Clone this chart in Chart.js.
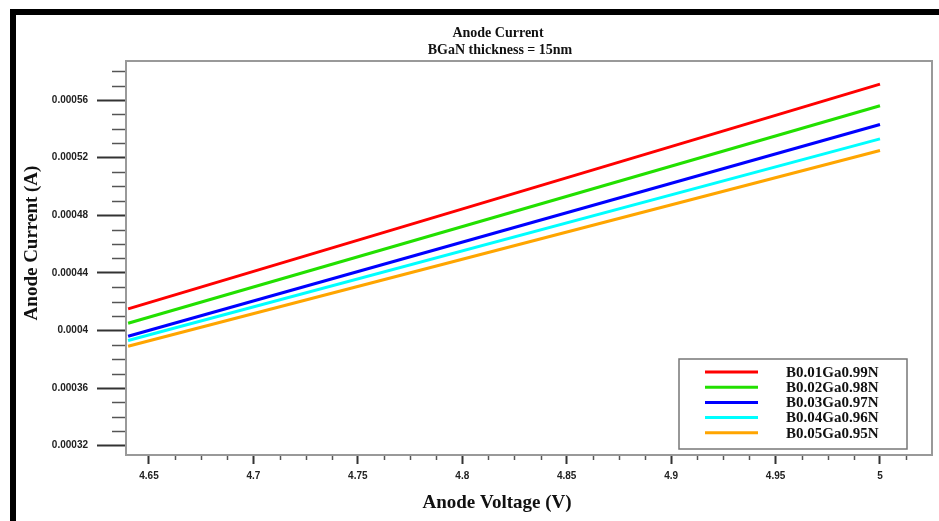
<!DOCTYPE html>
<html>
<head>
<meta charset="utf-8">
<script src="https://cdn.jsdelivr.net/npm/chart.js@4.4.1/dist/chart.umd.min.js"></script>
<style>
  html, body { margin: 0; padding: 0; background: #fff; }
  #wrap { position: relative; width: 939px; height: 521px; }
  #frame {
    position: absolute; left: 10px; top: 9px; right: 0; bottom: 0;
    border-top: 6px solid #000; border-left: 6px solid #000;
    pointer-events: none;
  }
</style>
</head>
<body>
<div id="wrap">
  <canvas id="myChart"></canvas>
  <div id="frame"></div>
</div>
<script>
const Series_names = ["B0.01Ga0.99N", "B0.02Ga0.98N", "B0.03Ga0.97N", "B0.04Ga0.96N", "B0.05Ga0.95N"];
const Series_colors = ["#ff0000", "#22e000", "#0000ff", "#00ffff", "#ffa500"];
const Voltage = [4.64, 5.0];
const Current = [
  [0.000415, 0.000571],
  [0.000405, 0.000556],
  [0.000396, 0.000543],
  [0.000393, 0.000533],
  [0.000389, 0.000525],
];
const Chart_title = ["Anode Current", "BGaN thickness = 15nm"];
const X_title = "Anode Voltage (V)";
const Y_title = "Anode Current (A)";

const serif = "'Liberation Serif', 'Times New Roman', serif";

// minor ticks, frame, titles and the boxed legend
const decor = {
  id: "decor",
  afterDraw(chart) {
    const ctx = chart.ctx;
    const a = chart.chartArea;
    const xs = chart.scales.x, ys = chart.scales.y;
    ctx.save();

    ctx.strokeStyle = "#555";
    ctx.lineWidth = 1.5;
    for (let k = 0; k <= 26; k++) {
      if (k % 4 == 0) continue;
      const y = Math.round(ys.getPixelForValue(0.00032 + k * 0.00001)) + 0.5;
      ctx.beginPath(); ctx.moveTo(a.left - 14, y); ctx.lineTo(a.left, y); ctx.stroke();
    }
    for (let k = 0; k <= 29; k++) {
      if (k % 4 == 0) continue;
      const x = Math.round(xs.getPixelForValue(4.65 + k * 0.0125)) + 0.5;
      ctx.beginPath(); ctx.moveTo(x, a.bottom); ctx.lineTo(x, a.bottom + 5); ctx.stroke();
    }

    ctx.strokeStyle = "#999";
    ctx.lineWidth = 2;
    ctx.strokeRect(a.left, a.top, a.right - a.left, a.bottom - a.top);

    ctx.fillStyle = "#111";
    ctx.textAlign = "center";
    ctx.textBaseline = "middle";
    ctx.font = "bold 14px " + serif;
    ctx.fillText(Chart_title[0], 498, 33);
    ctx.fillText(Chart_title[1], 500, 50);
    ctx.font = "bold 19px " + serif;
    ctx.fillText(X_title, 497, 503);
    ctx.translate(32, 243);
    ctx.rotate(-Math.PI / 2);
    ctx.fillText(Y_title, 0, 0);
    ctx.setTransform(1, 0, 0, 1, 0, 0);

    // legend box
    ctx.fillStyle = "#fff";
    ctx.fillRect(679, 359, 228, 90);
    ctx.strokeStyle = "#777";
    ctx.lineWidth = 1.5;
    ctx.strokeRect(679, 359, 228, 90);
    ctx.font = "bold 15px " + serif;
    ctx.textAlign = "left";
    chart.data.datasets.forEach((ds, i) => {
      const y = 372 + i * 15.2;
      ctx.strokeStyle = ds.borderColor;
      ctx.lineWidth = 3;
      ctx.beginPath(); ctx.moveTo(705, y); ctx.lineTo(758, y); ctx.stroke();
      ctx.fillStyle = "#111";
      ctx.fillText(ds.label, 786, y + 1);
    });
    ctx.restore();
  }
};

const tick_fmt = (digits) => function(value) { return String(+value.toFixed(digits)); };

new Chart("myChart", {
  type: "line",
  data: {
    datasets: Series_names.map((name, i) => ({
      label: name,
      data: Voltage.map((v, j) => ({x: v, y: Current[i][j]})),
      borderColor: Series_colors[i],
      borderWidth: 3,
      pointRadius: 0,
      fill: false,
    })),
  },
  options: {
    responsive: true,
    maintainAspectRatio: false,
    animation: false,
    layout: {padding: {left: 0, top: 61, right: 7, bottom: 0}},
    plugins: {legend: {display: false}, tooltip: {enabled: false}, title: {display: false}},
    scales: {
      x: {
        type: "linear",
        min: 4.639, max: 5.0249,
        afterFit: s => { s.height = 66; },
        border: {display: false},
        grid: {drawOnChartArea: false, drawTicks: true, tickLength: 9, tickColor: "#333", tickWidth: 2},
        ticks: {
          stepSize: 0.05, includeBounds: false, padding: 6, maxRotation: 0,
          color: "#222", font: {family: "'Liberation Sans', Arial, sans-serif", size: 10, weight: "bold"},
          callback: tick_fmt(2),
        },
      },
      y: {
        type: "linear",
        min: 0.0003135, max: 0.0005871,
        afterFit: s => { s.width = 126; },
        border: {display: false},
        grid: {drawOnChartArea: false, drawTicks: true, tickLength: 29, tickColor: "#333", tickWidth: 2},
        ticks: {
          stepSize: 0.00004, includeBounds: false, padding: 9,
          color: "#222", font: {family: "'Liberation Sans', Arial, sans-serif", size: 10, weight: "bold"},
          callback: tick_fmt(5),
        },
      },
    },
  },
  plugins: [decor],
});
</script>
</body>
</html>
